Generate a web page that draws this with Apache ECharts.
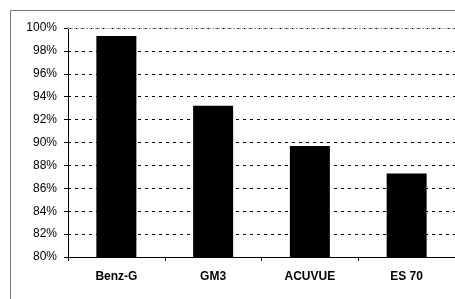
<!DOCTYPE html>
<html>
<head>
<meta charset="utf-8">
<script src="https://cdn.jsdelivr.net/npm/echarts@6/dist/echarts.min.js"></script>
<style>
html, body { margin: 0; padding: 0; background: #fff; }
#chart { width: 455px; height: 299px; }
</style>
</head>
<body>
<div id="chart"></div>
<script>
// 数据
var categories = ['Benz-G', 'GM3', 'ACUVUE', 'ES 70'];
var values = [99.3, 93.2, 89.7, 87.3];
var yMin = 80, yMax = 100, yStep = 2;

var myChart = echarts.init(document.getElementById('chart'));
var option = {
    animation: false,
    backgroundColor: '#fff',
    textStyle: { fontFamily: 'Liberation Sans' },
    graphic: [{
        type: 'rect',
        shape: { x: 10.5, y: 10.5, width: 460, height: 300 },
        style: { fill: 'none', stroke: '#777', lineWidth: 1 },
        z: -1
    }],
    grid: {
        left: 68,
        right: 0,
        top: 28,
        bottom: 42
    },
    xAxis: {
        type: 'category',
        data: categories,
        axisLine: { lineStyle: { color: '#000', width: 1 } },
        axisTick: { show: true, length: 4, lineStyle: { color: '#000' } },
        axisLabel: {
            color: '#000',
            fontSize: 12,
            fontWeight: 'bold',
            margin: 14
        }
    },
    yAxis: {
        type: 'value',
        min: yMin,
        max: yMax,
        interval: yStep,
        axisLine: { show: true, lineStyle: { color: '#000', width: 1 } },
        axisTick: { show: true, length: 4, lineStyle: { color: '#000' } },
        axisLabel: {
            color: '#000',
            fontSize: 12,
            margin: 11,
            formatter: '{value}%'
        },
        splitLine: {
            show: true,
            interval: function (index, value) {
                return value < yMax;
            },
            lineStyle: { color: '#000', type: [3, 4], width: 1 }
        }
    },
    series: [{
        type: 'bar',
        data: values,
        barWidth: 40,
        itemStyle: { color: '#000' },
        markLine: {
            silent: true,
            symbol: 'none',
            label: { show: false },
            lineStyle: { color: '#aaa', type: [2, 1], width: 1 },
            data: [{ yAxis: yMax }]
        }
    }]
};
myChart.setOption(option);
</script>
</body>
</html>
